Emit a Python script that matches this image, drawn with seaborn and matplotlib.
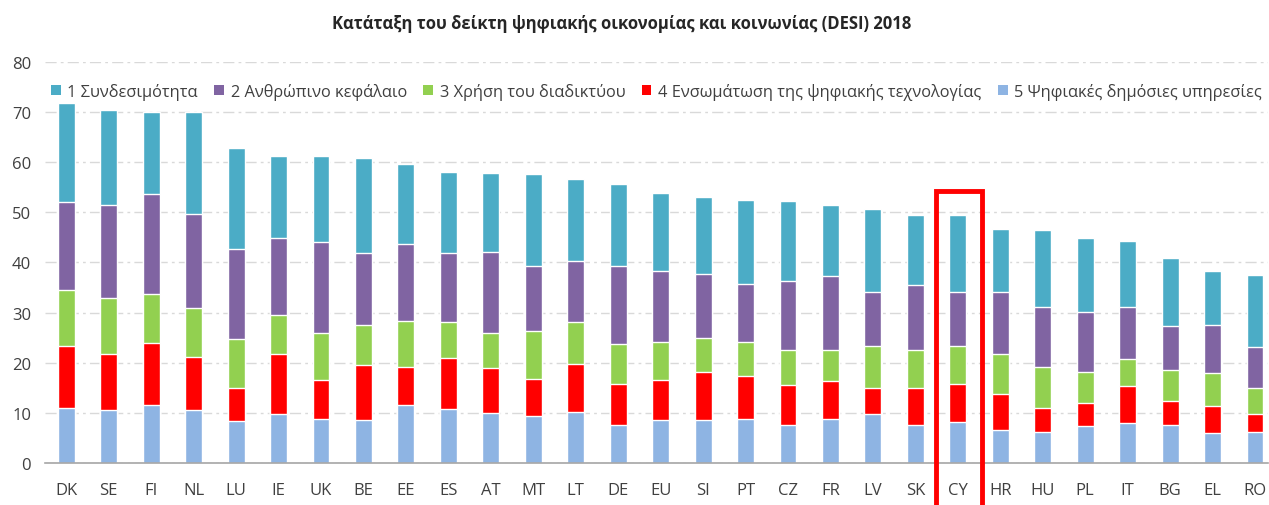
import numpy as np
import pandas as pd
import matplotlib
matplotlib.use('Agg')
import matplotlib.pyplot as plt
from matplotlib.patches import Rectangle, Patch
import seaborn as sns

# Countries in DESI 2018 ranking order
countries = ['DK', 'SE', 'FI', 'NL', 'LU', 'IE', 'UK', 'BE', 'EE', 'ES', 'AT', 'MT', 'LT', 'DE', 'EU',
             'SI', 'PT', 'CZ', 'FR', 'LV', 'SK', 'CY', 'HR', 'HU', 'PL', 'IT', 'BG', 'EL', 'RO']

# Component scores
connectivity = [19.7, 19.0, 16.5, 20.3, 20.1, 16.3, 17.1, 18.9, 16.0, 16.2, 15.8, 18.3, 16.3, 16.3, 15.5,
                15.2, 16.7, 16.0, 14.1, 16.5, 13.9, 15.2, 12.5, 15.4, 14.7, 13.2, 13.5, 10.7, 14.5]
human_capital = [17.6, 18.5, 19.9, 18.8, 17.9, 15.3, 18.1, 14.3, 15.3, 13.7, 16.1, 12.9, 12.1, 15.5, 14.1,
                 12.9, 11.6, 13.7, 14.7, 10.9, 12.9, 10.9, 12.4, 12.0, 12.0, 10.3, 8.8, 9.6, 8.1]
internet_use = [11.1, 11.1, 9.7, 9.8, 9.8, 7.8, 9.4, 8.1, 9.3, 7.3, 7.1, 9.6, 8.4, 8.0, 7.6,
                6.7, 6.9, 7.0, 6.2, 8.3, 7.6, 7.5, 8.1, 8.1, 6.2, 5.5, 6.2, 6.7, 5.3]
integration = [12.4, 11.2, 12.4, 10.5, 6.7, 12.1, 7.8, 10.9, 7.5, 10.1, 9.0, 7.5, 9.7, 8.3, 8.0,
               9.6, 8.5, 8.1, 7.6, 5.3, 7.5, 7.7, 7.1, 4.9, 4.7, 7.4, 4.9, 5.4, 3.6]
public_services = [11.0, 10.6, 11.6, 10.6, 8.3, 9.7, 8.8, 8.6, 11.6, 10.8, 9.9, 9.3, 10.1, 7.5, 8.6,
                   8.6, 8.8, 7.5, 8.8, 9.7, 7.5, 8.1, 6.6, 6.1, 7.3, 7.9, 7.5, 5.9, 6.1]

series_labels = ['1 Συνδεσιμότητα', '2 Ανθρώπινο κεφάλαιο', '3 Χρήση του διαδικτύου',
                 '4 Ενσωμάτωση της ψηφιακής τεχνολογίας', '5 Ψηφιακές δημόσιες υπηρεσίες']
colors = ['#4BACC6', '#8064A2', '#92D050', '#FF0000', '#8EB4E3']

highlight = 'CY'

sns.set_style('white')
plt.rcParams['font.family'] = ['Open Sans', 'DejaVu Sans']

# stack bottom -> top: 5, 4, 3, 2, 1
layers = [public_services, integration, internet_use, human_capital, connectivity]
layer_colors = colors[::-1]
cum = np.cumsum(np.array(layers), axis=0)

fig = plt.figure(figsize=(12.69, 5.06), dpi=100)
ax = fig.add_axes([0.0355, 0.083, 0.9635, 0.7925])

# draw from the tallest cumulative layer down so each lower layer overlays
for i in range(len(layers) - 1, -1, -1):
    df = pd.DataFrame({'country': countries, 'value': cum[i]})
    sns.barplot(data=df, x='country', y='value', color=layer_colors[i], width=0.4,
                saturation=1, ax=ax, zorder=2)

ax.set_xlim(-0.5, 28.3)
ax.set_ylim(0, 80)
ax.set_yticks(range(0, 81, 10))
ax.set_xlabel('')
ax.set_ylabel('')

ax.yaxis.grid(True, color='#D9D9D9', linestyle=(0, (8, 3, 2, 3)), linewidth=1, zorder=0)
ax.set_axisbelow(True)
for s in ['top', 'right', 'left']:
    ax.spines[s].set_visible(False)
ax.spines['bottom'].set_color('#A6A6A6')
ax.spines['bottom'].set_linewidth(1.2)

ax.tick_params(axis='x', which='major', length=0, pad=14, labelsize=12, labelcolor='#404040')
ax.tick_params(axis='y', length=0, pad=10, labelsize=12, labelcolor='#404040')
ax.set_xticks(np.arange(-0.5, len(countries) - 0.5, 1), minor=True)
ax.tick_params(axis='x', which='minor', length=6, color='#A6A6A6', width=1.2)

# highlight box around Cyprus
cy = countries.index(highlight)
rect = Rectangle((cy - 0.52, -16), 1.1, 70.3, fill=False, edgecolor='#FF0000',
                 linewidth=3.5, clip_on=False, zorder=5)
ax.add_patch(rect)

handles = [Patch(facecolor=c, edgecolor='none') for c in colors]
ax.legend(handles, series_labels, loc='upper center', bbox_to_anchor=(0.5, 0.985), ncol=5,
          frameon=False, fontsize=11.8, handlelength=0.6, handleheight=0.6, handletextpad=0.4,
          columnspacing=1.0, labelcolor='#404040')

fig.suptitle('Κατάταξη του δείκτη ψηφιακής οικονομίας και κοινωνίας (DESI) 2018',
             x=0.49, y=0.97, fontsize=12, fontweight='bold')

fig.savefig('out.png', dpi=100)
